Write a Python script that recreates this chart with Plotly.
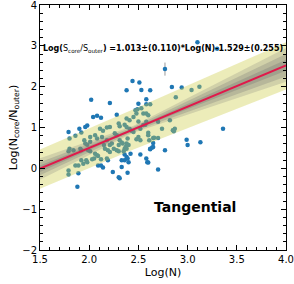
import plotly.graph_objects as go

# observed points (Log(N), Log(Ncore/Nouter))
log_n = [1.79, 1.90, 1.92, 1.98, 2.02, 2.21, 2.38, 2.04, 2.08, 2.12, 2.28, 2.44, 2.51, 2.53, 2.62, 2.58,
         2.50, 2.84, 2.94, 3.10, 3.30, 2.77,
         1.80, 1.95, 1.96, 1.98, 2.01, 2.13, 1.80, 1.84, 1.79, 1.91, 1.92, 1.99, 2.01, 2.06, 2.08, 2.09,
         2.16, 2.19, 2.21, 2.25, 2.28, 2.30, 2.35, 2.36, 2.37, 2.38, 2.30, 2.33, 2.21, 2.15, 1.86, 1.89,
         1.92, 1.97, 2.03, 2.05, 1.94, 1.98, 1.79, 1.79, 2.12, 2.18, 2.09, 2.12, 2.14, 2.19, 2.33, 2.36,
         2.38, 2.39, 2.33, 1.96, 2.18, 2.21, 2.30, 2.31, 2.38, 2.41, 2.45, 2.47, 2.48, 2.11, 2.14, 2.01,
         2.06, 2.08, 2.28, 2.31, 2.34, 2.52, 2.55, 2.58, 2.60, 2.61, 2.18, 2.23, 2.49, 2.53, 2.55, 2.58,
         2.60, 2.36, 2.38, 2.50, 2.57, 2.70, 2.74, 2.87, 2.86, 2.70, 2.65, 2.50, 2.48, 2.52, 2.39, 2.40,
         2.38, 2.41, 2.45, 2.64, 2.62, 2.42, 2.58, 2.62, 2.82, 2.85, 2.60, 2.66, 2.88, 3.04, 3.12,
         1.88, 1.89, 2.24, 2.30, 2.31, 2.39, 2.40, 2.59, 2.70, 2.52, 2.58, 2.60, 2.65, 2.65, 2.62, 2.77,
         2.99, 3.00, 3.13, 3.36, 2.36, 1.86, 2.26, 2.43]
log_ratio = [0.89, 0.97, 0.88, 1.05, 1.68, 1.60, 1.91, 1.26, 1.29, 1.24, 1.31, 2.14, 2.10, 1.92, 1.91, 1.69,
             1.58, 1.99, 1.98, 3.09, 2.93, 2.43,
             0.73, 0.69, 0.61, 0.58, 0.65, 0.77, 0.48, 0.44, 0.42, 0.48, 0.44, 0.44, 0.42, 0.36, 0.32, 0.30,
             0.48, 0.44, 0.40, 0.48, 0.44, 0.42, 0.42, 0.48, 0.52, 0.61, 0.57, 0.63, 0.57, 0.57, 0.07, 0.07,
             0.20, 0.20, 0.22, 0.24, 0.11, 0.15, -0.05, -0.15, 0.22, 0.24, 0.07, 0.07, 0.02, 0.20, 0.03, 0.20,
             0.28, 0.24, 0.20, 1.01, 1.00, 1.01, 1.10, 1.03, 1.22, 1.18, 1.26, 1.42, 1.34, 0.97, 0.92, 0.77,
             0.81, 0.73, 0.81, 0.69, 0.61, 0.97, 1.06, 1.14, 0.81, 0.69, 0.69, 0.61, 1.45, 1.47, 1.34, 1.34,
             1.30, 1.07, 1.01, 1.15, 1.07, 1.14, 0.97, 0.97, 0.91, 0.74, 0.74, 0.77, 0.71, 0.69, 0.73, 0.57,
             0.48, 0.97, 0.89, 0.51, 0.47, 0.36, 1.57, 1.57, 1.18, 0.93, 0.87, 0.75, 1.74, 1.92, 2.00,
             -0.45, -0.12, -0.09, -0.22, -0.24, -0.11, 0.15, 0.15, -0.03, 0.34, 0.24, 0.14, 0.62, 0.52, 0.48, 0.44,
             0.70, 0.57, 0.64, 0.97, 0.34, 0.80, 0.86, 0.92]
err = [0.0] * len(log_n)
err[21] = 0.16

# fit and uncertainty bands
band_x = [1.5, 2.45, 4.0]
fit_y = [-0.009, 0.953, 2.523]
yellow_hi = [0.46, 1.45, 3.09]
yellow_lo = [-0.50, 0.46, 1.93]
gray_layers = [
    ([0.25, 1.04, 2.95], [-0.28, 0.87, 2.12], 0.22),
    ([0.15, 1.01, 2.80], [-0.17, 0.90, 2.25], 0.28),
    ([0.07, 0.98, 2.66], [-0.09, 0.93, 2.39], 0.32),
]

fig = go.Figure()
fig.add_trace(go.Scatter(x=log_n, y=log_ratio, mode="markers",
                         marker=dict(color="#1f77b4", size=4.5),
                         error_y=dict(type="data", array=err, visible=True, color="#999999", thickness=1, width=0),
                         showlegend=False))

def band(hi, lo, color):
    fig.add_trace(go.Scatter(x=band_x + band_x[::-1], y=hi + lo[::-1], fill="toself",
                             fillcolor=color, line=dict(width=0), mode="lines",
                             hoverinfo="skip", showlegend=False))

band(yellow_hi, yellow_lo, "rgba(205,205,70,0.38)")
for hi, lo, a in gray_layers:
    band(hi, lo, f"rgba(115,115,115,{a})")

fig.add_trace(go.Scatter(x=band_x, y=fit_y, mode="lines",
                         line=dict(color="#e0194a", width=2), showlegend=False))

fig.add_annotation(x=1.51, y=2.92, xref="x", yref="y", xanchor="left", showarrow=False,
                   text="<b>Log(</b>S<sub>core</sub>/S<sub>outer</sub><b>) =1.013±(0.110)*Log(N)-1.529±(0.255)</b>",
                   font=dict(size=8, color="black"))
fig.add_annotation(x=3.08, y=-0.95, xref="x", yref="y", showarrow=False,
                   text="<b>Tangential</b>", font=dict(size=14, color="black"))

axis_common = dict(showline=True, linecolor="black", linewidth=1, mirror="allticks",
                   ticks="inside", ticklen=5, tickcolor="black", showgrid=False, zeroline=False,
                   automargin=False, ticklabeloverflow="allow", tickfont=dict(size=10, color="black"))
fig.update_xaxes(range=[1.5, 4.0], dtick=0.5, tickformat=".1f",
                 minor=dict(dtick=0.1, ticks="inside", ticklen=3, tickcolor="black"),
                 title=dict(text="Log(N)", font=dict(size=11, color="black"), standoff=4), **axis_common)
fig.update_yaxes(range=[-2, 4], dtick=1,
                 minor=dict(dtick=0.2, ticks="inside", ticklen=3, tickcolor="black"),
                 title=dict(text="Log(N<sub>core</sub>/N<sub>outer</sub>)", font=dict(size=11, color="black"), standoff=2),
                 **axis_common)
fig.update_layout(width=294, height=284, margin=dict(l=40, r=8, t=5, b=34),
                  plot_bgcolor="white", paper_bgcolor="white",
                  font=dict(family="DejaVu Sans", color="black"))
fig.write_html("out.html", config={"displayModeBar": False},
               post_script="document.body.style.margin='0';document.body.style.overflow='hidden';")
